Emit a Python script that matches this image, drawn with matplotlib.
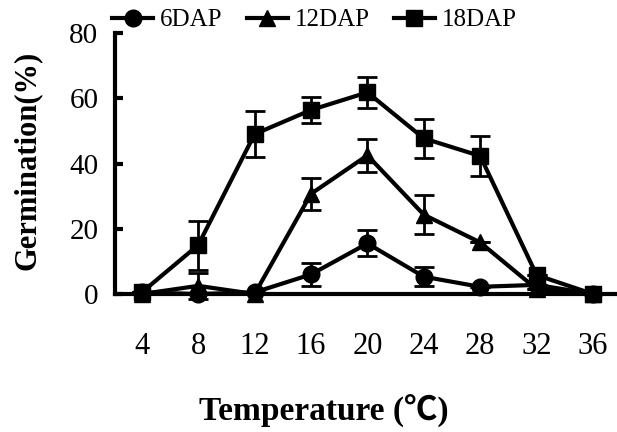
import matplotlib.pyplot as plt
from matplotlib.lines import Line2D

temps = [4, 8, 12, 16, 20, 24, 28, 32, 36]

dap6 = [0.5, 0, 0.5, 6.0, 15.5, 5.3, 2.2, 2.8, 0]
dap6_err = [0, 0, 0, 3.5, 4, 3, 0, 0, 0]

dap12 = [0, 2.5, 0, 30.7, 42.5, 24.3, 15.8, 1.5, 0]
dap12_err = [0, 4, 0, 5, 5, 6, 0, 0, 0]

dap18 = [0.5, 15, 49, 56.4, 61.8, 47.7, 42.3, 5.8, 0]
dap18_err = [0, 7.5, 7, 4, 4.8, 6, 6, 0, 0]

plt.rcParams['font.family'] = ['Liberation Serif', 'Noto Sans CJK JP']

fig = plt.figure(figsize=(6.17, 4.32), dpi=100)
ax = fig.add_axes([115 / 617, 1 - 294 / 432, 1 - 115 / 617, (294 - 33) / 432])

style = dict(color='black', linewidth=3, markersize=12, elinewidth=2,
             capsize=7, capthick=2, clip_on=False)
ax.errorbar(temps, dap18, yerr=dap18_err, marker='s', zorder=3, **style)
ax.errorbar(temps, dap12, yerr=dap12_err, marker='^', zorder=4, **style)
ax.errorbar(temps, dap6, yerr=dap6_err, marker='o', zorder=5, **style)

ax.set_xlim(2.1, 37.7)
ax.set_ylim(0, 80)
ax.set_xticks(temps)
ax.set_yticks([0, 20, 40, 60, 80])
ax.spines['top'].set_visible(False)
ax.spines['right'].set_visible(False)
ax.spines['left'].set_linewidth(3)
ax.spines['bottom'].set_linewidth(3)
ax.tick_params(axis='y', direction='in', length=6, width=3, labelsize=21, pad=12)
ax.tick_params(axis='x', length=0, labelsize=22, pad=27)

fig.text(27 / 617, 1 - 160 / 432, 'Germination(%)', rotation=90, fontsize=22,
         fontweight='bold', ha='center', va='center')
fig.text(324 / 617, 1 - 410 / 432, 'Temperature (\u2103)', fontsize=24,
         fontweight='bold', ha='center', va='center')

handles = [Line2D([], [], color='black', linewidth=3, marker=m, markersize=12)
           for m in ['o', '^', 's']]
fig.legend(handles, ['6DAP', '12DAP', '18DAP'], loc='center left',
           bbox_to_anchor=(112 / 617, 1 - 20 / 432), ncol=3, frameon=False,
           fontsize=18, handlelength=1.64, handletextpad=0.28, columnspacing=0.96,
           borderpad=0, borderaxespad=0)

fig.savefig('out.png', dpi=100)
